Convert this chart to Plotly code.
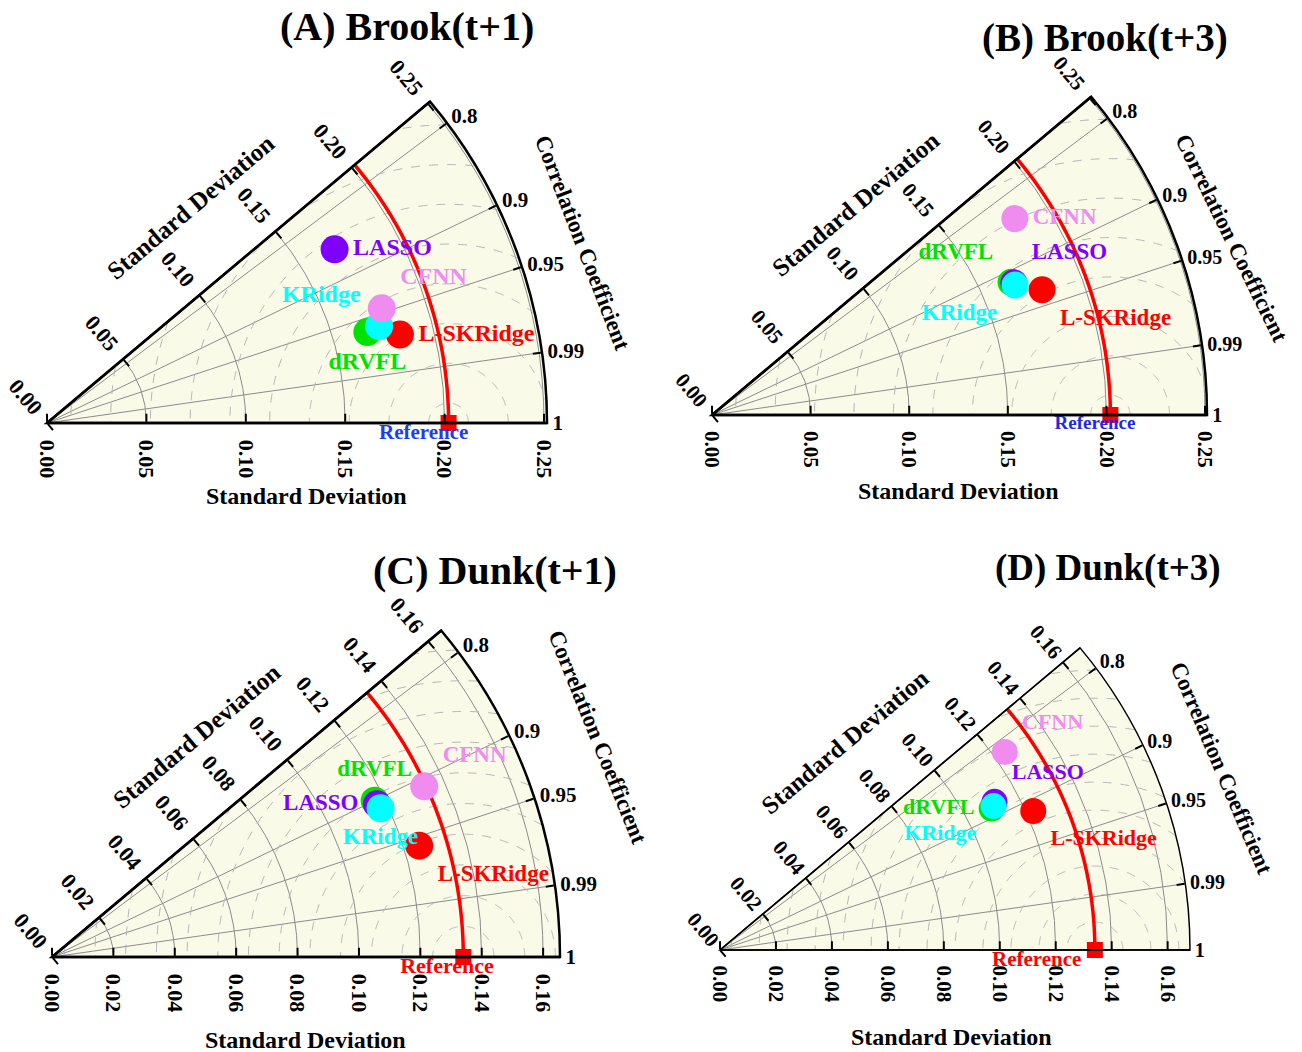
import numpy as np
import plotly.graph_objects as go

W, H = 1302, 1052

# ---------------- data ----------------
models = ["dRVFL", "L-SKRidge", "LASSO", "KRidge", "CFNN"]
model_colors = ["#00E100", "#FF0000", "#8000FF", "#00FFFF", "#F08CF0"]

# (A) Brook(t+1)
std_A = [0.1675, 0.1830, 0.1690, 0.1740, 0.1780]
corr_A = [0.962, 0.970, 0.856, 0.960, 0.946]
ref_A = 0.202

# (B) Brook(t+3)
std_B = [0.1659, 0.1790, 0.1671, 0.1672, 0.1830]
corr_B = [0.914, 0.935, 0.916, 0.919, 0.839]
ref_B = 0.202

# (C) Dunk(t+1)
std_C = [0.1168, 0.1250, 0.1170, 0.1175, 0.1334]
corr_C = [0.900, 0.957, 0.905, 0.911, 0.909]
ref_C = 0.134

# (D) Dunk(t+3)
std_D = [0.1095, 0.1225, 0.1115, 0.1105, 0.1240]
corr_D = [0.887, 0.914, 0.880, 0.885, 0.821]
ref_D = 0.134

std_ticks_brook = [0.00, 0.05, 0.10, 0.15, 0.20, 0.25]
std_ticks_dunk = [0.00, 0.02, 0.04, 0.06, 0.08, 0.10, 0.12, 0.14, 0.16]
corr_ticks = [0.8, 0.9, 0.95, 0.99, 1.0]
corr_labels = ["0.8", "0.9", "0.95", "0.99", "1"]

titles = ["(A) Brook(t+1)", "(B) Brook(t+3)", "(C) Dunk(t+1)", "(D) Dunk(t+3)"]

# ---------------- styling ----------------
SERIF = "Liberation Serif"
BG = "#FAFAE8"
GRID = "#8C8C8C"
DASH = "#B4B4B4"
SECTOR = 40.0
NB = "\u00a0"  # keeps the rotated std labels clear of the axis lines


def px(x):
    return x / W


def py(y):
    return 1 - y / H


def corr_to_theta(c):
    return np.degrees(np.arccos(np.clip(np.asarray(c, dtype=float), -1, 1)))


panels = [
    dict(std=std_A, corr=corr_A, ref=ref_A, ticks=std_ticks_brook, origin=(47, 423), R=500, rmax=0.2515,
         rms_step=0.02, rms_start=0.01, lw=2.5, msize=28, fsize=24, rfsize=21, tfsize=22, afsize=21,
         pos=["bottom center", "middle right", "middle right", "top left", "top right"],
         ref_color="#1E3CF0", ref_shift=-0.0125, up_pad=1,
         title=(407, 27, 40), xt=(306, 496), yt=(190, 207, -40), ct=(582, 243, 69)),
    dict(std=std_B, corr=corr_B, ref=ref_B, ticks=std_ticks_brook, origin=(712, 415), R=495, rmax=0.251,
         rms_step=0.02, rms_start=0.01, lw=2.5, msize=27, fsize=23, rfsize=19, tfsize=21, afsize=20,
         pos=["top left", "bottom right", "top right", "bottom left", "middle right"],
         ref_color="#1E28E6", ref_shift=-0.0078, up_pad=1,
         title=(1105, 38, 39), xt=(958, 491), yt=(855, 204, -40), ct=(1232, 238, 64)),
    dict(std=std_C, corr=corr_C, ref=ref_C, ticks=std_ticks_dunk, origin=(52, 957), R=508, rmax=0.1655,
         rms_step=0.01, rms_start=0.01, lw=2.5, msize=28, fsize=23, rfsize=22, tfsize=22, afsize=21,
         pos=["top center", "bottom right", "middle left", "bottom center", "top right"],
         ref_color="#FF0000", ref_shift=-0.0053, up_pad=1,
         title=(495, 570, 40), xt=(305, 1040), yt=(196, 736, -40), ct=(598, 737, 68)),
    dict(std=std_D, corr=corr_D, ref=ref_D, ticks=std_ticks_dunk, origin=(720, 950), R=470, rmax=0.168,
         rms_step=0.01, rms_start=0.01, lw=1.5, msize=26, fsize=22, rfsize=21, tfsize=21, afsize=20,
         pos=["middle left", "bottom right", "top right", "bottom left", "top right"],
         ref_color="#FF0000", ref_shift=-0.0208, up_pad=0,
         title=(1108, 568, 37), xt=(951, 1037), yt=(845, 741, -40), ct=(1222, 768, 67)),
]

fig = go.Figure()
layout_polars = {}
annotations = []
theta_ticks = corr_to_theta(corr_ticks)


def label(text, x, y, size, angle=0):
    return dict(text=text, x=px(x), y=py(y), xref="paper", yref="paper", showarrow=False,
                xanchor="center", yanchor="middle", textangle=angle,
                font=dict(family=SERIF, size=size, color="black", weight="bold"))


for i, p in enumerate(panels):
    main_id = f"polar{2 * i + 1}" if i > 0 else "polar"
    over_id = f"polar{2 * i + 2}"
    ox, oy = p["origin"]
    R = p["R"]
    top = oy - R * np.sin(np.radians(SECTOR))
    dom = dict(x=[px(ox), px(ox + R)], y=[py(oy), py(top)])
    tick_text = [f"{v:.2f}" for v in p["ticks"]]
    tickfont = dict(family=SERIF, size=p["tfsize"], color="black", weight="bold")
    angfont = dict(family=SERIF, size=p["afsize"], color="black", weight="bold")

    layout_polars[main_id] = dict(
        domain=dom, sector=[0, SECTOR], bgcolor=BG,
        radialaxis=dict(range=[0, p["rmax"]], angle=0, side="clockwise",
                        tickmode="array", tickvals=p["ticks"], ticktext=[NB * 2 + t for t in tick_text],
                        tickangle=90, ticks="inside", ticklen=8, tickwidth=2, tickcolor="black",
                        showline=True, linecolor="black", linewidth=p["lw"],
                        showgrid=True, gridcolor=GRID, gridwidth=1, tickfont=tickfont),
        angularaxis=dict(thetaunit="degrees", direction="counterclockwise", rotation=0,
                         tickmode="array", tickvals=theta_ticks, ticktext=corr_labels,
                         ticks="inside", ticklen=8, tickwidth=2, tickcolor="black",
                         showline=True, linecolor="black", linewidth=p["lw"],
                         showgrid=True, gridcolor=GRID, gridwidth=1, tickfont=angfont),
    )
    layout_polars[over_id] = dict(
        domain=dom, sector=[0, SECTOR], bgcolor="rgba(0,0,0,0)",
        radialaxis=dict(range=[0, p["rmax"]], angle=SECTOR, side="counterclockwise",
                        tickmode="array", tickvals=p["ticks"],
                        ticktext=[t + NB * p["up_pad"] for t in tick_text],
                        tickangle=90, ticks="inside", ticklen=8, tickwidth=2, tickcolor="black",
                        showline=True, linecolor="black", linewidth=p["lw"],
                        showgrid=False, tickfont=tickfont),
        angularaxis=dict(visible=False, showgrid=False),
    )

    sub = main_id
    ref = p["ref"]
    rmax = p["rmax"]

    # centred-RMS difference contours around the reference point
    d = p["rms_start"]
    while d < ref + rmax:
        phi = np.linspace(0, np.pi, 400)
        xx = ref + d * np.cos(phi)
        yy = d * np.sin(phi)
        rr = np.hypot(xx, yy)
        tt = np.degrees(np.arctan2(yy, xx))
        keep = (rr <= rmax) & (tt <= SECTOR) & (tt >= 0)
        rr = np.where(keep, rr, np.nan)
        tt = np.where(keep, tt, np.nan)
        fig.add_trace(go.Scatterpolar(r=rr, theta=tt, mode="lines", subplot=sub,
                                      line=dict(color=DASH, width=1, dash="dash"),
                                      hoverinfo="skip", showlegend=False))
        d += p["rms_step"]

    # reference standard-deviation arc
    arc_t = np.linspace(0, SECTOR, 200)
    fig.add_trace(go.Scatterpolar(r=np.full_like(arc_t, ref), theta=arc_t, mode="lines", subplot=sub,
                                  line=dict(color="#FF0000", width=3.5),
                                  hoverinfo="skip", showlegend=False))

    # models
    thetas = corr_to_theta(p["corr"])
    for k, name in enumerate(models):
        fig.add_trace(go.Scatterpolar(
            r=[p["std"][k]], theta=[thetas[k]], mode="markers+text", subplot=sub,
            text=[name], textposition=p["pos"][k], cliponaxis=False,
            marker=dict(size=p["msize"], color=model_colors[k], line=dict(width=0)),
            textfont=dict(family=SERIF, size=p["fsize"], color=model_colors[k], weight="bold"),
            name=name, showlegend=False))

    # reference point (half of the square is hidden below the axis)
    fig.add_trace(go.Scatterpolar(r=[ref], theta=[0], mode="markers", subplot=sub,
                                  marker=dict(symbol="square", size=16, color="#FF0000"),
                                  showlegend=False, hoverinfo="skip"))
    fig.add_trace(go.Scatterpolar(r=[ref + p["ref_shift"]], theta=[0], mode="text", subplot=sub,
                                  text=["Reference"], textposition="bottom center", cliponaxis=False,
                                  textfont=dict(family=SERIF, size=p["rfsize"], color=p["ref_color"],
                                                weight="bold"),
                                  showlegend=False, hoverinfo="skip"))
    # placeholder so the overlay subplot is drawn
    fig.add_trace(go.Scatterpolar(r=[0], theta=[0], mode="markers", subplot=over_id,
                                  marker=dict(size=1, opacity=0), showlegend=False, hoverinfo="skip"))

    # titles
    tx, ty, ts = p["title"]
    annotations.append(label(titles[i], tx, ty, ts))
    annotations.append(label("Standard Deviation", p["xt"][0], p["xt"][1], 24))
    annotations.append(label("Standard Deviation", p["yt"][0], p["yt"][1], 25, p["yt"][2]))
    annotations.append(label("Correlation Coefficient", p["ct"][0], p["ct"][1], 23, p["ct"][2]))

fig.update_layout(
    width=W, height=H, margin=dict(l=0, r=0, t=0, b=0),
    paper_bgcolor="white", plot_bgcolor="white", showlegend=False,
    annotations=annotations, **layout_polars,
)

fig.write_html("out.html")
